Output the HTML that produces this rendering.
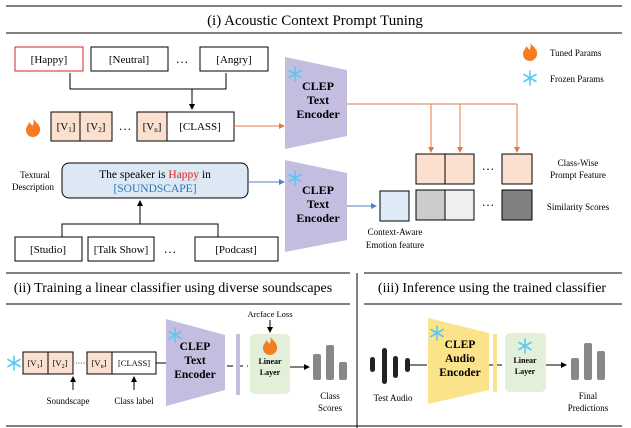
<!DOCTYPE html>
<html><head><meta charset="utf-8"><style>
html,body{margin:0;padding:0;background:#fff}
svg{display:block;font-family:"Liberation Serif",serif}
</style></head><body>
<svg width="631" height="428" viewBox="0 0 631 428" xmlns="http://www.w3.org/2000/svg">
<defs>
<marker id="ak" markerWidth="6" markerHeight="6" refX="5" refY="3" orient="auto"><path d="M0,0 L6,3 L0,6z" fill="#000"/></marker>
<marker id="ao" markerWidth="6" markerHeight="6" refX="5" refY="3" orient="auto"><path d="M0,0 L6,3 L0,6z" fill="#e07b45"/></marker>
<marker id="ab" markerWidth="6" markerHeight="6" refX="5" refY="3" orient="auto"><path d="M0,0 L6,3 L0,6z" fill="#4a86c8"/></marker>
<g id="fire"><path d="M0,-9 C4,-5 8,-2 7,3 C6,7 3,9 0,9 C-3,9 -7,7 -7,2 C-7,-2 -4,-3 -4,-6 C-2,-4 -1,-3 -1,-2 C1,-4 1,-6 0,-9z" fill="#f57c20"/></g>
<g id="snow" stroke="#5cc8f0" stroke-width="1.6" stroke-linecap="round"><line x1="0" y1="-7" x2="0" y2="7"/><line x1="-6" y1="-3.5" x2="6" y2="3.5"/><line x1="-6" y1="3.5" x2="6" y2="-3.5"/></g>
</defs>
<!-- top section -->
<line x1="6" y1="6" x2="622" y2="6" stroke="#000" stroke-width="1"/>
<text x="315" y="25" font-size="15" text-anchor="middle">(i) Acoustic Context Prompt Tuning</text>
<line x1="6" y1="33" x2="622" y2="33" stroke="#000" stroke-width="1"/>
<g font-size="11" text-anchor="middle">
<rect x="15" y="47" width="68" height="24" fill="#fff" stroke="#d62728"/>
<text x="49" y="63">[Happy]</text>
<rect x="91" y="47" width="77" height="24" fill="#fff" stroke="#000"/>
<text x="129" y="63">[Neutral]</text>
<text x="182" y="63" font-size="13">…</text>
<rect x="200" y="47" width="68" height="24" fill="#fff" stroke="#000"/>
<text x="234" y="63">[Angry]</text>
</g>
<path d="M70,73 V89 H226 V73" fill="none" stroke="#000"/>
<line x1="192" y1="89" x2="192" y2="109" stroke="#000" marker-end="url(#ak)"/>
<use href="#fire" x="33" y="128"/>
<g font-size="11" text-anchor="middle">
<rect x="51" y="112" width="29" height="29" fill="#fbe0d0" stroke="#000"/>
<rect x="80" y="112" width="32" height="29" fill="#fbe0d0" stroke="#000"/>
<text x="66" y="130">[V<tspan font-size="7" dy="2">1</tspan><tspan dy="-2">]</tspan></text>
<text x="96" y="130">[V<tspan font-size="7" dy="2">2</tspan><tspan dy="-2">]</tspan></text>
<text x="125" y="130" font-size="13">…</text>
<rect x="137" y="112" width="30" height="29" fill="#fbe0d0" stroke="#000"/>
<text x="152" y="130">[V<tspan font-size="7" dy="2">n</tspan><tspan dy="-2">]</tspan></text>
<rect x="167" y="112" width="67" height="29" fill="#fff" stroke="#000"/>
<text x="200" y="130">[CLASS]</text>
</g>
<line x1="234" y1="126" x2="284" y2="126" stroke="#e07b45" marker-end="url(#ao)"/>
<polygon points="285,57 347,70 347,136 285,149" fill="#c4bde0"/>
<polygon points="285,160 347,173 347,240 285,252" fill="#c4bde0"/>
<use href="#snow" x="295" y="74"/>
<use href="#snow" x="295" y="178"/>
<g font-size="12" font-weight="bold" text-anchor="middle">
<text x="318" y="90">CLEP</text><text x="318" y="104">Text</text><text x="318" y="118">Encoder</text>
<text x="318" y="194">CLEP</text><text x="318" y="208">Text</text><text x="318" y="222">Encoder</text>
</g>
<text x="35" y="178" font-size="9" text-anchor="middle">Textural</text>
<text x="33" y="190" font-size="9" text-anchor="middle">Description</text>
<rect x="62" y="163" width="186" height="35" rx="7" fill="#dce9f5" stroke="#000"/>
<text x="155" y="178" font-size="11.5" text-anchor="middle">The speaker is <tspan fill="#e02020">Happy</tspan> in</text>
<text x="155" y="192" font-size="11.5" text-anchor="middle" fill="#2e75b6">[SOUNDSCAPE]</text>
<line x1="248" y1="182" x2="284" y2="182" stroke="#4a86c8" marker-end="url(#ab)"/>
<path d="M62,237 V224 H218 V237" fill="none" stroke="#000"/>
<line x1="140" y1="224" x2="140" y2="201" stroke="#000" marker-end="url(#ak)"/>
<g font-size="11" text-anchor="middle">
<rect x="15" y="237" width="67" height="24" fill="#fff" stroke="#000"/><text x="48" y="253">[Studio]</text>
<rect x="88" y="237" width="66" height="24" fill="#fff" stroke="#000"/><text x="121" y="253">[Talk Show]</text>
<text x="170" y="253" font-size="13">…</text>
<rect x="195" y="237" width="83" height="24" fill="#fff" stroke="#000"/><text x="236" y="253">[Podcast]</text>
</g>
<path d="M347,104 H517" stroke="#e07b45" fill="none"/>
<line x1="431" y1="104" x2="431" y2="152" stroke="#e07b45" marker-end="url(#ao)"/>
<line x1="460" y1="104" x2="460" y2="152" stroke="#e07b45" marker-end="url(#ao)"/>
<line x1="517" y1="104" x2="517" y2="152" stroke="#e07b45" marker-end="url(#ao)"/>
<rect x="416" y="154" width="29" height="30" fill="#fbe0d0" stroke="#000"/>
<rect x="445" y="154" width="29" height="30" fill="#fbe0d0" stroke="#000"/>
<rect x="502" y="154" width="30" height="30" fill="#fbe0d0" stroke="#000"/>
<text x="488" y="170" font-size="13" text-anchor="middle">…</text>
<rect x="416" y="190" width="29" height="30" fill="#cccccc" stroke="#000"/>
<rect x="445" y="190" width="29" height="30" fill="#efefef" stroke="#000"/>
<rect x="502" y="190" width="30" height="30" fill="#808080" stroke="#000"/>
<text x="488" y="206" font-size="13" text-anchor="middle">…</text>
<rect x="380" y="191" width="29" height="30" fill="#deebf7" stroke="#000"/>
<line x1="347" y1="206" x2="376" y2="206" stroke="#4a86c8" marker-end="url(#ab)"/>
<g font-size="9" text-anchor="middle">
<text x="395" y="235">Context-Aware</text><text x="395" y="248">Emotion feature</text>
<text x="578" y="166">Class-Wise</text><text x="578" y="178">Prompt Feature</text>
<text x="578" y="210">Similarity Scores</text>
</g>
<use href="#fire" x="530" y="52"/>
<use href="#snow" x="530" y="78"/>
<text x="550" y="56" font-size="9">Tuned Params</text>
<text x="550" y="82" font-size="9">Frozen Params</text>
<!-- section ii -->
<line x1="6" y1="273" x2="350" y2="273" stroke="#000"/>
<text x="173" y="292" font-size="14" text-anchor="middle">(ii) Training a linear classifier using diverse soundscapes</text>
<line x1="6" y1="304" x2="350" y2="304" stroke="#000"/>
<line x1="357" y1="273" x2="357" y2="428" stroke="#000"/>
<line x1="6" y1="426" x2="622" y2="426" stroke="#000"/>
<use href="#snow" x="14" y="363"/>
<g font-size="8.5" text-anchor="middle">
<rect x="23" y="352" width="25" height="22" fill="#fbe0d0" stroke="#000"/>
<rect x="48" y="352" width="25" height="22" fill="#fbe0d0" stroke="#000"/>
<text x="35" y="366">[V<tspan font-size="6" dy="2">1</tspan><tspan dy="-2">]</tspan></text>
<text x="60" y="366">[V<tspan font-size="6" dy="2">2</tspan><tspan dy="-2">]</tspan></text>
<line x1="76" y1="363" x2="86" y2="363" stroke="#555" stroke-dasharray="1,1.5"/>
<rect x="87" y="352" width="25" height="22" fill="#fbe0d0" stroke="#000"/>
<text x="99" y="366">[V<tspan font-size="6" dy="2">n</tspan><tspan dy="-2">]</tspan></text>
<rect x="112" y="352" width="44" height="22" fill="#fff" stroke="#000"/>
<text x="134" y="366">[CLASS]</text>
</g>
<line x1="73" y1="390" x2="73" y2="377" stroke="#000" marker-end="url(#ak)"/>
<line x1="134" y1="390" x2="134" y2="377" stroke="#000" marker-end="url(#ak)"/>
<text x="68" y="404" font-size="9" text-anchor="middle">Soundscape</text>
<text x="134" y="404" font-size="9" text-anchor="middle">Class label</text>
<line x1="156" y1="363" x2="166" y2="363" stroke="#000"/>
<polygon points="166,319 225,335 225,390 166,406" fill="#c4bde0"/>
<use href="#snow" x="175" y="335"/>
<g font-size="11.5" font-weight="bold" text-anchor="middle">
<text x="195" y="350">CLEP</text><text x="195" y="364">Text</text><text x="195" y="378">Encoder</text>
</g>
<line x1="227" y1="366" x2="248" y2="366" stroke="#000" stroke-dasharray="6,4"/>
<rect x="236" y="334" width="4" height="61" fill="#c4bde0"/>
<rect x="250" y="334" width="40" height="60" rx="5" fill="#e2f0d9"/>
<use href="#fire" x="270" y="346" transform="translate(0,0)"/>
<g font-size="8" font-weight="bold" text-anchor="middle"><text x="270" y="364">Linear</text><text x="270" y="375">Layer</text></g>
<text x="270" y="317" font-size="8.5" text-anchor="middle">Arcface Loss</text>
<line x1="270" y1="320" x2="270" y2="332" stroke="#000" marker-end="url(#ak)"/>
<line x1="290" y1="367" x2="309" y2="367" stroke="#000" marker-end="url(#ak)"/>
<rect x="313" y="354" width="8" height="26" rx="2" fill="#888"/>
<rect x="326" y="345" width="8" height="35" rx="2" fill="#888"/>
<rect x="339" y="362" width="8" height="18" rx="2" fill="#888"/>
<text x="330" y="399" font-size="9" text-anchor="middle">Class</text>
<text x="330" y="411" font-size="9" text-anchor="middle">Scores</text>
<!-- section iii -->
<line x1="364" y1="273" x2="622" y2="273" stroke="#000"/>
<text x="492" y="292" font-size="14" text-anchor="middle">(iii) Inference using the trained classifier</text>
<line x1="364" y1="304" x2="622" y2="304" stroke="#000"/>
<rect x="370" y="357" width="5" height="15" rx="2.5" fill="#222"/>
<rect x="382" y="348" width="5" height="36" rx="2.5" fill="#222"/>
<rect x="393" y="356" width="5" height="22" rx="2.5" fill="#222"/>
<rect x="405" y="358" width="5" height="14" rx="2.5" fill="#222"/>
<line x1="410" y1="365" x2="427" y2="365" stroke="#000"/>
<text x="393" y="401" font-size="9" text-anchor="middle">Test Audio</text>
<polygon points="428,318 489,333 489,390 428,404" fill="#fbe38a"/>
<use href="#snow" x="437" y="333"/>
<g font-size="11.5" font-weight="bold" text-anchor="middle">
<text x="460" y="348">CLEP</text><text x="460" y="362">Audio</text><text x="460" y="376">Encoder</text>
</g>
<line x1="489" y1="365" x2="505" y2="365" stroke="#000" stroke-dasharray="5,3"/>
<rect x="493" y="334" width="4" height="58" fill="#fbe38a"/>
<rect x="505" y="333" width="41" height="59" rx="5" fill="#e2f0d9"/>
<use href="#snow" x="525" y="346"/>
<g font-size="8" font-weight="bold" text-anchor="middle"><text x="525" y="363">Linear</text><text x="525" y="374">Layer</text></g>
<line x1="546" y1="365" x2="566" y2="365" stroke="#000" marker-end="url(#ak)"/>
<rect x="571" y="358" width="8" height="22" rx="2" fill="#888"/>
<rect x="584" y="343" width="8" height="37" rx="2" fill="#888"/>
<rect x="597" y="351" width="8" height="29" rx="2" fill="#888"/>
<text x="588" y="399" font-size="9" text-anchor="middle">Final</text>
<text x="588" y="411" font-size="9" text-anchor="middle">Predictions</text>
</svg>
</body></html>
